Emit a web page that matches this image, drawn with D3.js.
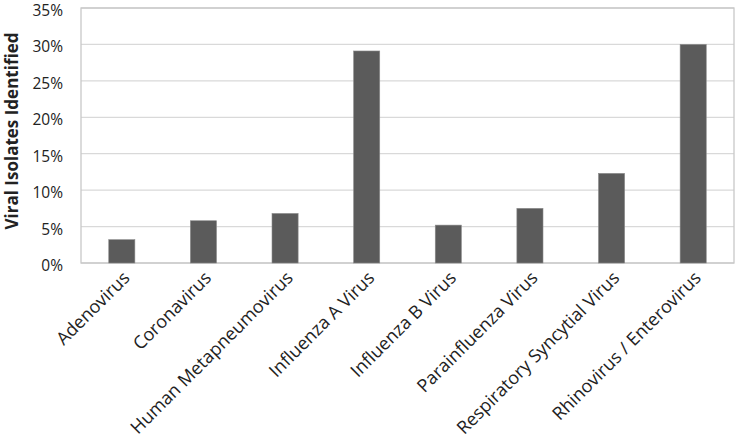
<!DOCTYPE html>
<html>
<head>
<meta charset="utf-8">
<script src="https://cdn.jsdelivr.net/npm/d3@7"></script>
<style>
  body { margin: 0; background: #fff; }
  text { font-family: "Open Sans", sans-serif; fill: #222; }
</style>
</head>
<body>
<svg id="mainChart" width="737" height="441"></svg>
<script>
var viruses = ["Adenovirus", "Coronavirus", "Human Metapneumovirus", "Influenza A Virus",
  "Influenza B Virus", "Parainfluenza Virus", "Respiratory Syncytial Virus", "Rhinovirus / Enterovirus"];
var isolatePct = [0.032, 0.058, 0.068, 0.291, 0.052, 0.075, 0.123, 0.300];
var yTicks = [0, 0.05, 0.10, 0.15, 0.20, 0.25, 0.30, 0.35];

var svg = d3.select("#mainChart");
var margin = { top: 8, right: 3, bottom: 178, left: 81 };
var width = 737 - margin.left - margin.right,
  height = 441 - margin.top - margin.bottom;

var g = svg.append("g").attr("transform", "translate(" + margin.left + "," + margin.top + ")");

var x = d3.scaleBand().domain(viruses).range([0, width]).paddingInner(0.68).paddingOuter(0.34);
var y = d3.scaleLinear().domain([0, 0.35]).range([height, 0]);

// gridlines
g.selectAll(".grid")
  .data(yTicks)
  .enter()
  .append("line")
  .attr("x1", 0)
  .attr("x2", width)
  .attr("y1", function(d) { return y(d); })
  .attr("y2", function(d) { return y(d); })
  .attr("stroke", "#d9d9d9")
  .attr("stroke-width", 1.3);

// plot border
g.append("rect")
  .attr("width", width)
  .attr("height", height)
  .attr("fill", "none")
  .attr("stroke", "#c8c8c8")
  .attr("stroke-width", 1.3);

// bars
g.selectAll(".bar")
  .data(viruses)
  .enter()
  .append("rect")
  .attr("x", function(d) { return x(d); })
  .attr("width", x.bandwidth())
  .attr("y", function(d, i) { return y(isolatePct[i]); })
  .attr("height", function(d, i) { return height - y(isolatePct[i]); })
  .attr("fill", "#5b5b5b")
  .attr("stroke", "#8a8a8a")
  .attr("stroke-width", 0.6);

// y axis
var yAxis = g.append("g")
  .call(d3.axisLeft(y).tickValues(yTicks).tickFormat(d3.format(".0%")).tickSize(0).tickPadding(18));
yAxis.select(".domain").remove();
yAxis.selectAll("text")
  .style("font-family", "'Open Sans', sans-serif")
  .style("font-size", "15.5px")
  .attr("fill", "#222")
  .attr("dy", "0.48em");

// x axis labels
var xAxis = g.append("g")
  .attr("transform", "translate(0," + height + ")")
  .call(d3.axisBottom(x).tickSize(0).tickPadding(0));
xAxis.select(".domain").remove();
xAxis.selectAll("text")
  .style("font-family", "'Open Sans', sans-serif")
  .style("font-size", "18px")
  .attr("fill", "#222")
  .attr("text-anchor", "end")
  .attr("dy", 0)
  .attr("transform", "translate(9,16) rotate(-45)");

// y title
svg.append("text")
  .attr("transform", "translate(18,131) rotate(-90)")
  .attr("text-anchor", "middle")
  .style("font-size", "17px")
  .style("font-weight", "bold")
  .attr("fill", "#111")
  .text("Viral Isolates Identified");
</script>
</body>
</html>
